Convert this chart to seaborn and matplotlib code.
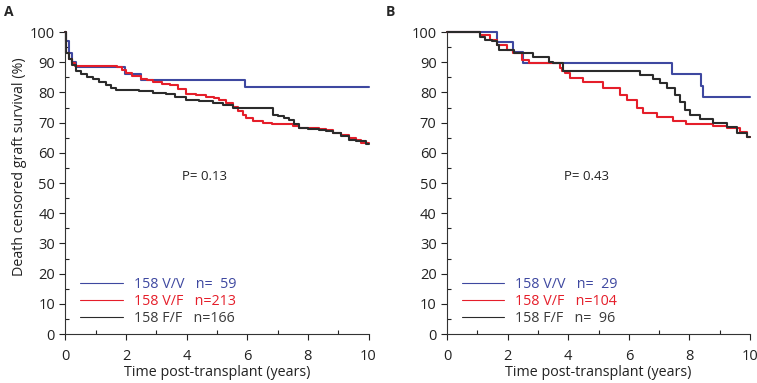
import matplotlib
matplotlib.use("Agg")
import numpy as np
import pandas as pd
import matplotlib.pyplot as plt
from matplotlib.ticker import MultipleLocator
from matplotlib.lines import Line2D
import seaborn as sns

# --- Data (Kaplan-Meier steps, time in years, survival in %) ---
A_VV_T = [0, 0.03, 0.1, 0.2, 0.35, 1.95, 2.5, 5.93, 10]
A_VV_S = [100, 97, 93, 90, 88.3, 86.1, 84.2, 81.8, 81.8]

A_VF_T = [0, 0.03, 0.1, 0.2, 0.3, 1.7, 1.85, 2.0, 2.2, 2.5, 2.7, 2.9, 3.2, 3.45, 3.7, 3.98,
          4.3, 4.64, 4.9, 5.08, 5.3, 5.52, 5.7, 5.85, 5.96, 6.2, 6.51, 6.8, 7.17, 7.5, 7.72,
          8.0, 8.38, 8.6, 8.82, 9.1, 9.37, 9.6, 9.75, 10]
A_VF_S = [100, 93, 91, 89.8, 88.8, 88.3, 87.5, 86.5, 85.5, 84.5, 84.0, 83.3, 82.8, 82.4, 81, 79.4,
          79, 78.6, 78, 77.5, 76.6, 75.3, 74, 72.5, 71.4, 70.6, 70, 69.7, 69.4, 68.8, 68.3,
          68.1, 67.9, 67.4, 66.7, 66, 64.8, 64.2, 63.1, 63.1]

A_FF_T = [0, 0.02, 0.1, 0.2, 0.35, 0.5, 0.7, 0.9, 1.1, 1.34, 1.5, 1.67, 2.44, 2.88, 3.32, 3.6,
          3.98, 4.4, 4.86, 5.2, 5.52, 5.8, 6.18, 6.85, 7.0, 7.2, 7.39, 7.55, 7.72, 8.0, 8.38,
          8.6, 8.82, 9.1, 9.37, 9.6, 9.92, 10]
A_FF_S = [100, 93, 91, 89, 87, 86, 85.2, 84.5, 83.6, 82.5, 81.3, 80.8, 80.6, 79.7, 79.4, 78.5,
          77.5, 77, 76.4, 75.7, 75, 74.7, 74.7, 72.5, 72.2, 71.5, 70.9, 69.5, 68.3, 67.8, 67.5,
          67.2, 66.7, 65.5, 64.4, 63.8, 62.9, 62.9]

B_VV_T = [0, 1.66, 2.19, 2.5, 7.42, 8.38, 8.45, 10]
B_VV_S = [100, 96.7, 93.3, 89.8, 86.1, 82, 78.6, 78.6]

B_VF_T = [0, 1.1, 1.42, 1.64, 1.97, 2.19, 2.47, 2.7, 3.73, 3.8, 3.9, 4.06, 4.5, 5.16, 5.71,
          5.93, 6.26, 6.48, 6.92, 7.46, 7.9, 8.79, 9.23, 9.67, 9.9, 10]
B_VF_S = [100, 99, 97.4, 95.7, 94, 93, 90.7, 89.6, 88, 87.2, 86.4, 84.7, 83.5, 81.3, 79.1,
          77.5, 74.7, 73.1, 72, 70.6, 69.5, 68.9, 68.1, 67, 65.3, 65.3]

B_FF_T = [0, 1.09, 1.25, 1.47, 1.64, 1.7, 2.2, 2.52, 2.83, 3.35, 3.5, 3.84, 6.15, 6.37, 6.81,
          7.03, 7.25, 7.52, 7.69, 7.85, 8.02, 8.35, 8.79, 9.23, 9.56, 9.9, 10]
B_FF_S = [100, 98.5, 97.4, 97, 95.7, 94, 93.2, 92.9, 91.6, 90.2, 89.6, 87.2, 87.2, 85.8, 84.3,
          83, 81.3, 79.1, 76.9, 74.2, 72.5, 71.1, 69.8, 68.7, 66.4, 65.3, 65.3]

GROUPS = ["158 V/V", "158 V/F", "158 F/F"]
A_N = ["n=  59", "n=213", "n=166"]
B_N = ["n=  29", "n=104", "n=  96"]
P_A = "P= 0.13"
P_B = "P= 0.43"

COLORS = {"158 V/V": "#3e48a0", "158 V/F": "#e51e2a", "158 F/F": "#2b2b2b"}
TEXT_COLORS = {"158 V/V": "#3e48a0", "158 V/F": "#e51e2a", "158 F/F": "#3a3a3a"}


def make_df(series):
    rows = []
    for grp, (t, s) in zip(GROUPS, series):
        rows.append(pd.DataFrame({"time": t, "surv": s, "group": grp}))
    return pd.concat(rows, ignore_index=True)


def draw_panel(ax, df, n_labels, p_text, show_ylabel):
    for grp in GROUPS:
        sub = df[df["group"] == grp]
        sns.lineplot(data=sub, x="time", y="surv", ax=ax, color=COLORS[grp],
                     drawstyle="steps-post", estimator=None, sort=False,
                     linewidth=1.5, clip_on=False, legend=False)
    ax.set_xlim(0, 10)
    ax.set_ylim(0, 100)
    ax.xaxis.set_major_locator(MultipleLocator(2))
    ax.xaxis.set_minor_locator(MultipleLocator(1))
    ax.yaxis.set_major_locator(MultipleLocator(10))
    ax.yaxis.set_minor_locator(MultipleLocator(5))
    ax.tick_params(which="major", direction="out", length=4, width=0.8, labelsize=10.5,
                   colors="#222222")
    ax.tick_params(axis="x", which="major", pad=7)
    ax.tick_params(axis="y", which="major", pad=3.5)
    ax.tick_params(which="minor", direction="in", length=3, width=0.8, colors="#222222")
    for sp in ["left", "bottom"]:
        ax.spines[sp].set_color("#333333")
        ax.spines[sp].set_linewidth(0.8)
    sns.despine(ax=ax)
    ax.set_xlabel("Time post-transplant (years)", fontsize=10.3, color="#222222")
    ax.xaxis.set_label_coords(0.5, -0.129)
    ax.xaxis.label.set_va("center")
    if show_ylabel:
        ax.set_ylabel("Death censored graft survival (%)", fontsize=10.3, color="#222222")
        ax.yaxis.set_label_coords(-0.152, 0.553)
        ax.yaxis.label.set_va("center")
    else:
        ax.set_ylabel("")
    ax.text(4.6, 52, p_text, ha="center", va="center", fontsize=9.5, color="#222222")

    handles = [Line2D([], [], color=COLORS[g], lw=0.8) for g in GROUPS]
    labels = [f"{g}   {n}" for g, n in zip(GROUPS, n_labels)]
    leg = ax.legend(handles, labels, loc="lower left", bbox_to_anchor=(0.048, 0.028),
                    frameon=False, fontsize=10.3, handlelength=3.0, handletextpad=0.75,
                    labelspacing=0.12, borderpad=0, borderaxespad=0)
    for txt, g in zip(leg.get_texts(), GROUPS):
        txt.set_color(TEXT_COLORS[g])


sns.set_theme(style="ticks")
plt.rcParams["font.family"] = ["Open Sans", "DejaVu Sans"]

fig = plt.figure(figsize=(7.57, 3.83), dpi=100)
ax_a = fig.add_axes([0.0865, 0.1279, 0.4003, 0.7885])
ax_b = fig.add_axes([0.5905, 0.1279, 0.4003, 0.7885])

df_a = make_df([(A_VV_T, A_VV_S), (A_VF_T, A_VF_S), (A_FF_T, A_FF_S)])
df_b = make_df([(B_VV_T, B_VV_S), (B_VF_T, B_VF_S), (B_FF_T, B_FF_S)])

draw_panel(ax_a, df_a, A_N, P_A, True)
draw_panel(ax_b, df_b, B_N, P_B, False)

fig.text(4 / 757, 1 - 12 / 383, "A", fontsize=10, fontweight="bold", va="center", ha="left")
fig.text(386 / 757, 1 - 12 / 383, "B", fontsize=10, fontweight="bold", va="center", ha="left")

fig.savefig("out.png", dpi=100)
